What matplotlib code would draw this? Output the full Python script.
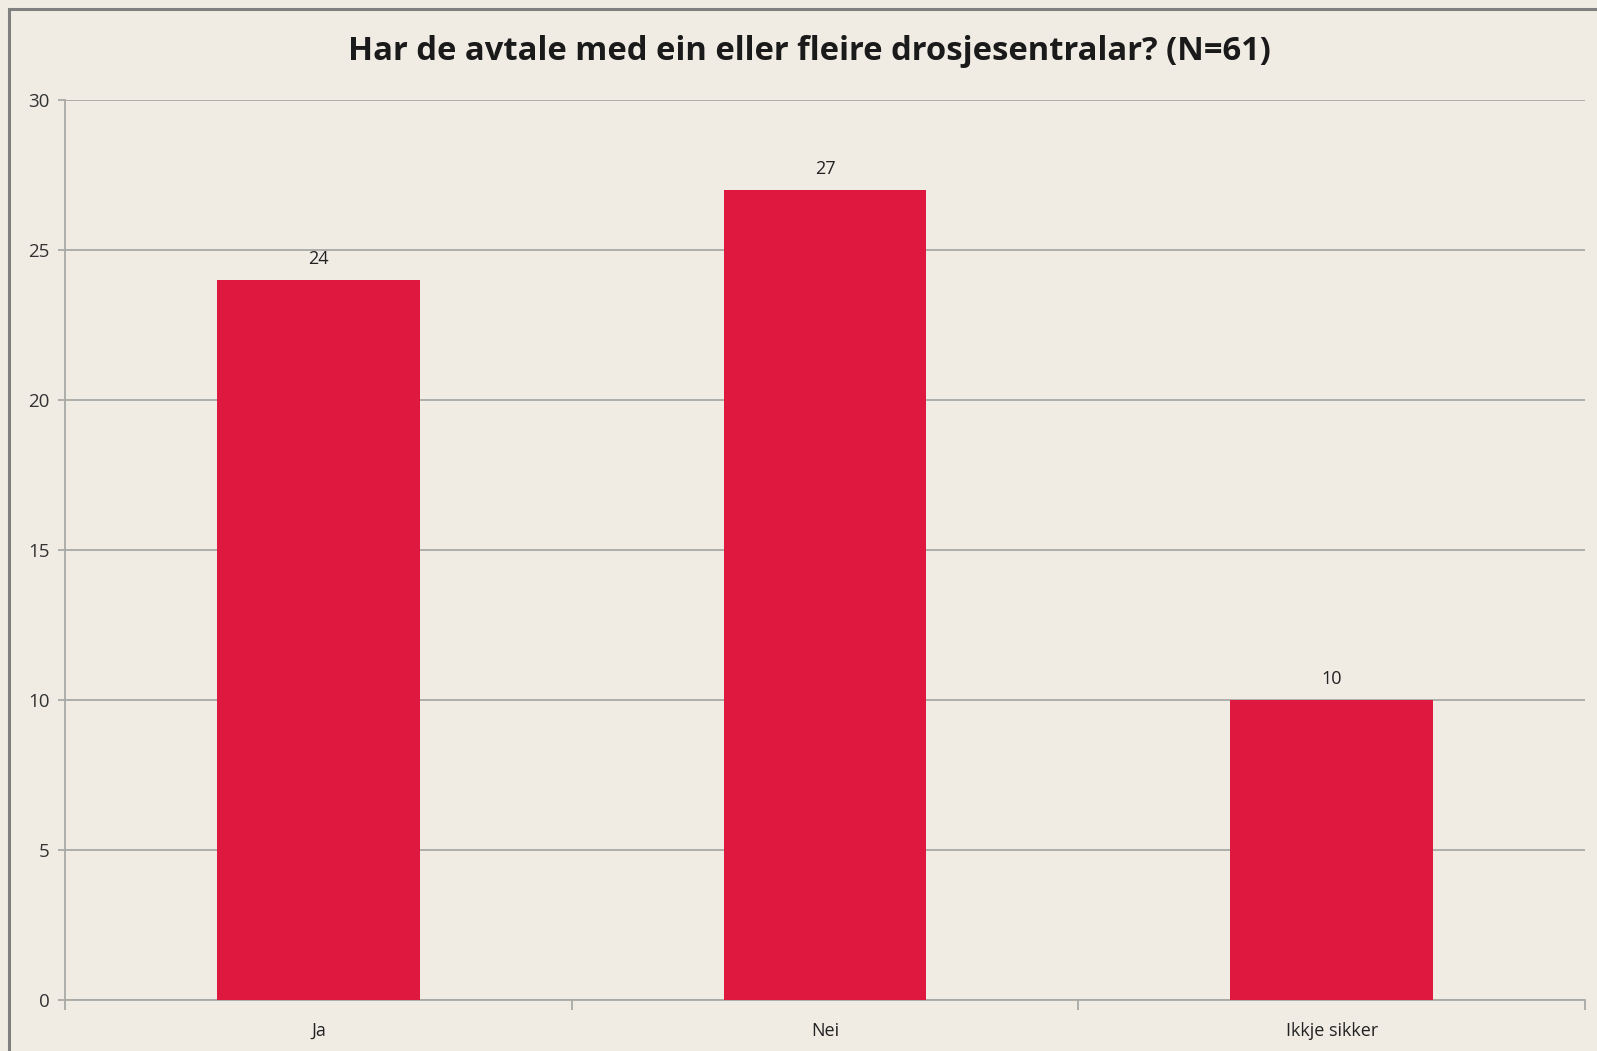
import matplotlib.pyplot as plt
from matplotlib.lines import Line2D

categories = ["Ja", "Nei", "Ikkje sikker"]
values = [24, 27, 10]
yticks = [0, 5, 10, 15, 20, 25, 30]
title = "Har de avtale med ein eller fleire drosjesentralar? (N=61)"

bg = "#F0ECE4"
bar_color = "#DF1840"
grid_color = "#A9A9A6"

plt.rcParams['font.family'] = ['Open Sans', 'DejaVu Sans']

fig = plt.figure(figsize=(15.97, 10.51), dpi=100, facecolor=bg)
ax = fig.add_axes([65 / 1597, 51 / 1051, 1520 / 1597, 900 / 1051])
ax.set_facecolor(bg)

x = list(range(len(categories)))
bars = ax.bar(x, values, width=0.4, color=bar_color, zorder=3)
for b, v in zip(bars, values):
    ax.text(b.get_x() + b.get_width() / 2, v + 0.4, str(v),
            ha='center', va='bottom', fontsize=13, color='#222222')

ax.set_xlim(-0.5, len(categories) - 0.5)
ax.set_ylim(0, 30)
ax.set_yticks(yticks)
ax.set_yticklabels([str(t) for t in yticks], fontsize=13.5, color='#333333')
ax.yaxis.grid(True, color=grid_color, linewidth=1.3, zorder=0)

# category labels at centres, tick marks on boundaries
ax.set_xticks(x)
ax.set_xticklabels(categories, fontsize=13, color='#222222')
ax.tick_params(axis='x', length=0, pad=16)
ax.set_xticks([i - 0.5 for i in range(len(categories) + 1)], minor=True)
ax.tick_params(axis='x', which='minor', length=7, color=grid_color, width=1.3)
ax.tick_params(axis='y', length=5, color=grid_color, width=1.3, pad=6)

for s in ['top', 'right']:
    ax.spines[s].set_visible(False)
for s in ['left', 'bottom']:
    ax.spines[s].set_color(grid_color)
    ax.spines[s].set_linewidth(1.3)

fig.text(0.507, 1 - 51 / 1051, title, ha='center', va='center',
         fontsize=23.6, fontweight='bold', color='#1a1a1a')

# outer frame (left and top edges only visible)
fig.add_artist(Line2D([9 / 1597, 9 / 1597], [0, 1 - 9 / 1051],
                      transform=fig.transFigure, color='#808080', linewidth=2.2))
fig.add_artist(Line2D([9 / 1597, 1], [1 - 9 / 1051, 1 - 9 / 1051],
                      transform=fig.transFigure, color='#808080', linewidth=2.2))

fig.savefig("out.png", dpi=100, facecolor=bg)
